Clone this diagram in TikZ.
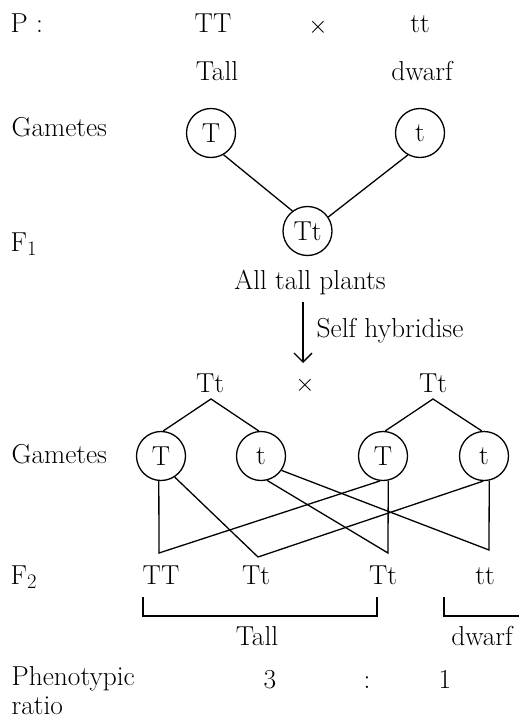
\documentclass[tikz,border=0pt]{standalone}
\usetikzlibrary{arrows.meta}
\begin{document}
\begin{tikzpicture}[x=1bp,y=-1bp, line width=1.3bp,
  every node/.style={font=\fontsize{27.5}{32}\selectfont, inner sep=0pt},
  lbl/.style={anchor=base west},
  txt/.style={anchor=base},
  gam/.style={circle,draw,minimum size=49bp,inner sep=0pt},
  arr/.style={-{Straight Barb[length=9bp,width=18bp]}}]
\useasboundingbox (0,0) rectangle (519,719);
% Parents
\node[lbl] (P) at (10,33) {P :};
\node[txt] (TT) at (213,33) {TT};
\node (x1) at (318,27) {$\times$};
\node[txt] (tt) at (420,33) {tt};
\node[txt] (tall) at (217,81) {Tall};
\node[txt] (dwarf) at (422,81) {dwarf};
% Gametes 1
\node[lbl] (gam1) at (11,137) {Gametes};
\node[gam] (g1T) at (211,133) {T};
\node[gam] (g1t) at (420,133) {t};
% F1
\node[lbl] (F1) at (10,251) {F$_1$};
\node[gam] (F1c) at (307.5,231) {Tt};
\draw (g1T.-60) -- (F1c.127);
\draw (g1t.-119) -- (F1c.34);
\node[txt] (all) at (310,289) {All tall plants};
\coordinate (a1) at (303,302);
\coordinate (a2) at (303,363);
\draw[arr] (a1) -- (a2);
\node[lbl] (self) at (316,337) {Self hybridise};
% Second cross
\node[txt] (P2a) at (210,392) {Tt};
\node (x2) at (305,385) {$\times$};
\node[txt] (P2b) at (433,392) {Tt};
\coordinate (apL) at (211,399);
\coordinate (apR) at (433,399);
\node[lbl] (gam2) at (11,463) {Gametes};
\node[gam] (T1) at (161,456) {T};
\node[gam] (t1) at (261,456) {t};
\node[gam] (T2) at (383,456) {T};
\node[gam] (t2) at (484,456) {t};
\draw (T1.85) -- (apL) -- (t1.95);
\draw (T2.85) -- (apR) -- (t2.95);
% F2
\coordinate (j1) at (159,553);
\coordinate (j2) at (258,557);
\coordinate (j3) at (388,553);
\coordinate (j4) at (489,550);
\draw (T1.-95) -- (j1) -- (T2.-97);
\draw (T1.-57) -- (j2) -- (t2.-92);
\draw (t1.-76) -- (j3) -- (T2.-78);
\draw (t1.-35) -- (j4) -- (t2.-78);
\node[lbl] (F2) at (10,584) {F$_2$};
\node[txt] (f2a) at (161,584) {TT};
\node[txt] (f2b) at (256,584) {Tt};
\node[txt] (f2c) at (383,584) {Tt};
\node[txt] (f2d) at (485,584) {tt};
% Brackets
\coordinate (b1) at (143,597);
\coordinate (b2) at (143,616);
\coordinate (b3) at (377,616);
\coordinate (b4) at (377,597);
\draw (b1) -- (b2) -- (b3) -- (b4);
\coordinate (c1) at (444,597);
\coordinate (c2) at (444,616);
\coordinate (c3) at (519,616);
\draw (c1) -- (c2) -- (c3);
\node[txt] (tall2) at (257,645) {Tall};
\node[txt] (dwarf2) at (482,645) {dwarf};
% Ratio
\node[lbl] (ph) at (11,685) {Phenotypic};
\node[lbl] (ratio) at (11,714) {ratio};
\node[txt] (r3) at (270,688) {3};
\node[txt] (rc) at (367,688) {:};
\node[txt] (r1) at (445,688) {1};
\end{tikzpicture}
\end{document}
